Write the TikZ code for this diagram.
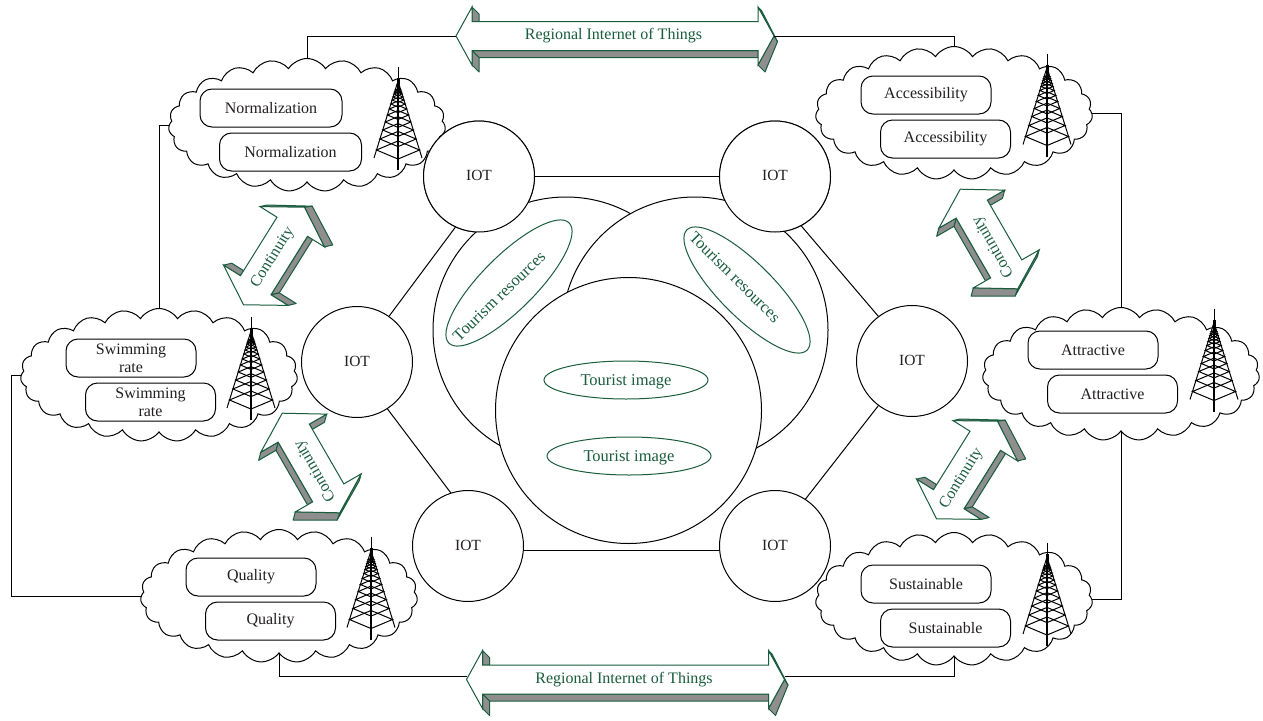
\documentclass[tikz,border=0pt]{standalone}
\usepackage{fontspec}
\setmainfont{Liberation Serif}
\usetikzlibrary{shapes.geometric,shapes.symbols}
\definecolor{leaf}{HTML}{1A5C3E}
\definecolor{sidegray}{HTML}{8E8E8E}
\definecolor{inktext}{HTML}{231F20}
\tikzset{
	cloudnode/.style={cloud, draw, fill=white, line width=1pt, cloud puffs=23, cloud puff arc=115, aspect=2.08, inner sep=0pt, minimum width=277pt, minimum height=133pt},
	boxnode/.style={draw, fill=white, line width=1pt, rounded corners=12pt, minimum height=38pt, align=center, inner sep=0pt, text=inktext, font=\fontsize{16}{18}\selectfont},
	iotnode/.style={circle, draw, fill=white, line width=1pt, minimum size=111pt, inner sep=0pt, text=inktext, font=\fontsize{15.5}{18}\selectfont},
	bigcircle/.style={circle, draw, fill=white, line width=1pt, minimum size=266pt, inner sep=0pt},
	imagenode/.style={ellipse, draw=leaf, line width=1pt, inner sep=0pt},
	imagetext/.style={inner sep=0pt, text depth=0pt, text=leaf, font=\fontsize{16.5}{18}\selectfont},
	arrowtext/.style={inner sep=0pt, text=leaf, font=\fontsize{16}{18}\selectfont},
	arrowside/.style={draw=leaf, fill=sidegray, line width=1pt, line join=round},
	arrowface/.style={draw=leaf, fill=white, line width=1pt, line join=miter},
	linkline/.style={line width=1pt}
}
\newcommand{\towerdraw}[2]{
	\begin{scope}[shift={(#1,#2)}, line width=1pt]
		\draw (0,0) -- (0,12);
		\draw[line width=3pt] (0,11) -- (0,26);
		\draw (0,14) -- (-24,91) (0,14) -- (24,91);
		\foreach \y [evaluate=\y as \w using (\y-14)*24/77] in {83,72,63,55,48,42,37,33,30,27,25,23} {
			\draw (-\w,\y) -- (0,\y+.42*\w) -- (\w,\y) -- (0,\y-.42*\w) -- cycle;
		}
		\draw[line width=1.3pt] (0,20) -- (0,103);
	\end{scope}
}
\newcommand{\cloudunit}[9]{
	\node[cloudnode] (#1) at (#2,#3) {};
	\node[boxnode, minimum width=#9pt] (#1a) at (#4,#5) {#6};
	\node[boxnode, minimum width=#9pt] (#1b) at (#4+19.5,#5+44) {#6};
	\towerdraw{#7}{#8}
}
\newcommand{\dblarrow}[7]{
	\begin{scope}[shift={(#2,#3)}, rotate=#4]
		\pgfmathsetmacro{\xl}{-\arL/2+\arA}
		\pgfmathsetmacro{\xr}{\arL/2-\arA}
		\draw[arrowside] (\xl,-\arH) -- (\xl,-\arS) -- (\xl+\arE,-\arS) -- (\xl+\arE,-\arH+\arE) -- cycle;
		\draw[arrowside] (\xr,-\arH) -- (\arL/2,0) -- (\arL/2+\arTx,\arTy) -- (\xr+\arTx,-\arH+\arTx) -- cycle;
		\draw[arrowside] (\arL/2,0) -- (\xr,\arH) -- (\xr+\arE,\arH+\arE) -- (\arL/2+\arTx,\arTy) -- cycle;
		\draw[arrowside] (\xr,\arS) -- (\xl,\arS) -- (\xl+\arE,\arS+\arE) -- (\xr,\arS+\arE) -- cycle;
		\draw[arrowside] (\xl,\arS) -- (\xl,\arH) -- (\xl+\arE,\arH+\arE) -- (\xl+\arE,\arS+\arE) -- cycle;
		\draw[arrowface] (-\arL/2,0) -- (\xl,-\arH) -- (\xl,-\arS) -- (\xr,-\arS) -- (\xr,-\arH) -- (\arL/2,0) -- (\xr,\arH) -- (\xr,\arS) -- (\xl,\arS) -- (\xl,\arH) -- cycle;
		\coordinate (#1w) at (-\arL/2,0);
		\coordinate (#1e) at (\arL/2,0);
		\node[arrowtext, rotate=#5] (#1) at (#6,0) {#7};
	\end{scope}
}
\begin{document}
\begin{tikzpicture}[x=1pt, y=-1pt]
	\useasboundingbox (0,0) rectangle (1263,720);
	\cloudunit{normal}{307}{125}{271}{108}{Normalization}{398}{67}{142}
	\cloudunit{access}{954}{113}{926}{95}{Accessibility}{1047}{53.5}{130}
	\cloudunit{swim}{159}{375}{131}{358}{Swimming\\rate}{251}{317}{130}
	\cloudunit{attract}{1121}{374}{1093}{350}{Attractive}{1214}{308.5}{130}
	\cloudunit{quality}{279}{596}{251}{577}{Quality}{371}{536.5}{130}
	\cloudunit{sustain}{954}{599}{926}{584}{Sustainable}{1047}{543}{130}

	\def\arL{318}\def\arS{14.5}\def\arH{29}\def\arA{16}\def\arE{7}\def\arTx{3.5}\def\arTy{5.6}
	\dblarrow{regiontop}{615}{36}{0}{0}{-1.5}{Regional Internet of Things}
	\dblarrow{regionbot}{625.5}{679.5}{0}{0}{-1.5}{Regional Internet of Things}
	\def\arL{115}\def\arS{18}\def\arH{38}\def\arA{23}\def\arE{6}\def\arTx{5}\def\arTy{6}
	\foreach \n/\x/\y/\r/\t/\o in {contA/274/256/58/58/-2, contB/967/470/58/58/-10, contC/989/239/-60/120/9, contD/311/463/-60/120/9} {
		\dblarrow{\n}{\x}{\y}{\r}{\t}{\o}{Continuity}
	}

	\draw[linkline] (regiontopw) -| (normal.north);
	\draw[linkline] (regiontope) -| (access.north);
	\draw[linkline] ([yshift=3.5pt]regionbotw) -| (quality.south);
	\draw[linkline] ([yshift=3.5pt]regionbote) -| (sustain.south);
	\draw[linkline] (normal.west) -| (swim.north);
	\draw[linkline] (access.east) -| (attract.north);
	\draw[linkline] (attract.south) |- (sustain.east);
	\draw[linkline] (swim.west) -- ++(-9,0) |- (quality.west);

	\foreach \n/\x/\y in {iotTL/479/176.5, iotTR/775/176.5, iotR/912/361, iotL/357/362, iotBL/468/546, iotBR/775/546} {
		\node[iotnode] (\n) at (\x,\y) {\raisebox{1.5pt}{IOT}};
	}
	\draw[linkline] (iotTL) -- (iotTR);
	\draw[linkline] (iotBL.-5) -- (iotBR.185);
	\draw[linkline] (iotL.55) -- (iotTL.245);
	\draw[linkline] (iotR.127) -- (iotTR.-62);
	\draw[linkline] (iotL.-57) -- (iotBL.108);
	\draw[linkline] (iotR.-127) -- (iotBR.57);

	\node[bigcircle] (circleL) at (566,330) {};
	\node[iotnode] at (iotTL) {\raisebox{1.5pt}{IOT}};
	\node[bigcircle] (circleR) at (695,330) {};
	\node[iotnode] at (iotTR) {\raisebox{1.5pt}{IOT}};
	\node[bigcircle] (circleC) at (628.5,410.5) {};

	\node[imagenode, minimum width=170pt, minimum height=54pt, rotate=45] (resL) at (509,283) {};
	\node[imagetext, rotate=44] (resLtext) at (499,296) {Tourism resources};
	\node[imagenode, minimum width=170pt, minimum height=54pt, rotate=-45] (resR) at (747,290) {};
	\node[imagetext, rotate=-45] (resRtext) at (735,277) {Tourism resources};
	\node[imagenode, minimum width=164pt, minimum height=38pt] (imgA) at (626,380) {};
	\node[imagetext] (imgAtext) at (626,380) {Tourist image};
	\node[imagenode, minimum width=164pt, minimum height=38pt] (imgB) at (629,456) {};
	\node[imagetext] (imgBtext) at (629,456) {Tourist image};
\end{tikzpicture}
\end{document}
